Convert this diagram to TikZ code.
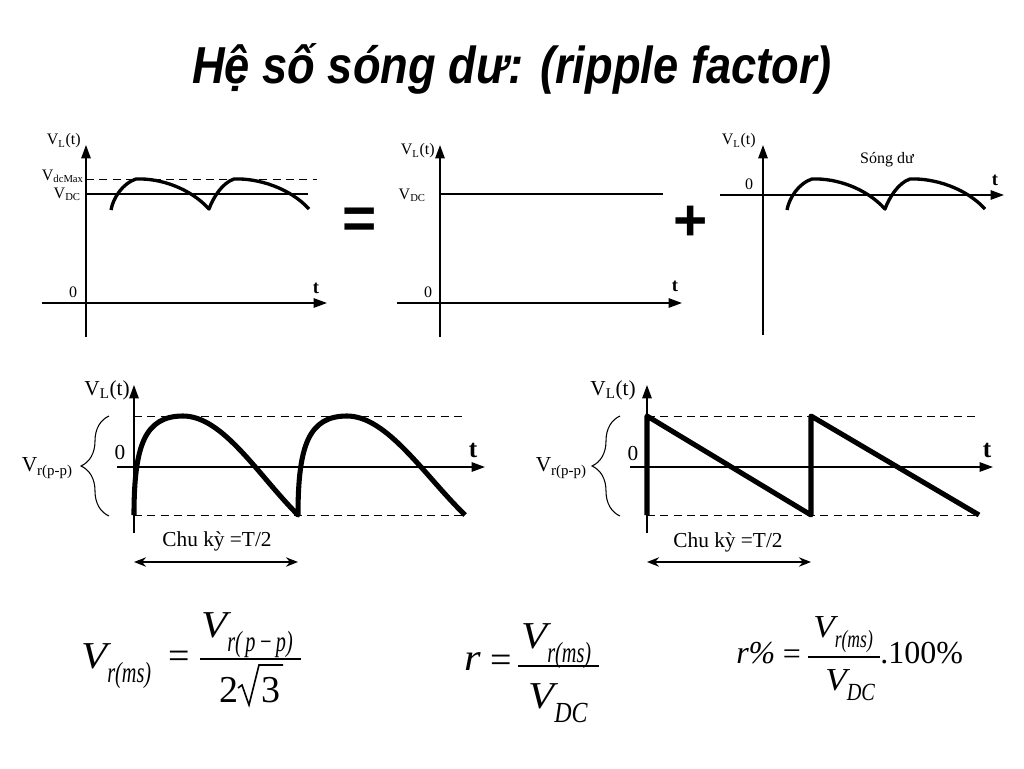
\documentclass[tikz,border=0pt]{standalone}
\usepackage{graphicx}
\usepackage{fontspec}
\setmainfont{Liberation Serif}
\newfontfamily\titlefont{Liberation Sans}
\usetikzlibrary{arrows.meta,decorations.pathreplacing}
\newcommand\fsubA[2][0.8]{\raisebox{-10.5pt}{\fontsize{19.5}{20}\selectfont\itshape\scalebox{#1}[1.12]{#2}}}
\newcommand\fsubB[2][0.8]{\raisebox{-8pt}{\fontsize{16.5}{17}\selectfont\itshape\scalebox{#1}[1.12]{#2}}}
\begin{document}
\begin{tikzpicture}[x=0.75pt,y=-0.75pt,
 axis/.style={line width=1.3pt,-{Triangle[length=10pt,width=7pt]}},
 dashline/.style={line width=0.7pt,dash pattern=on 6pt off 4pt},
 dcline/.style={line width=2.2pt},
 wavetop/.style={line width=2.5pt,line join=round},
 wavebot/.style={line width=3.8pt,line join=round},
 labs/.style={font=\fontsize{12}{14}\selectfont,inner sep=0pt},
 labb/.style={font=\fontsize{16}{19}\selectfont,inner sep=0pt},
 tsmall/.style={font=\fontsize{14}{16}\selectfont\bfseries,inner sep=0pt},
 tbig/.style={font=\fontsize{19}{22}\selectfont\bfseries,inner sep=0pt},
 bracestyle/.style={decorate,decoration={brace,amplitude=21pt},line width=0.8pt},
 period/.style={line width=1.5pt,{Stealth[length=9pt,width=7pt]}-{Stealth[length=9pt,width=7pt]}},
 op/.style={font=\titlefont\bfseries\fontsize{44}{50}\selectfont,inner sep=0pt},
 fbig/.style={inner sep=0pt,font=\fontsize{28.5}{30}\selectfont\itshape},
 fbigup/.style={inner sep=0pt,font=\fontsize{28.5}{30}\selectfont},
 fmid/.style={inner sep=0pt,font=\fontsize{24}{26}\selectfont\itshape},
 fmidup/.style={inner sep=0pt,font=\fontsize{24}{26}\selectfont},
 fbar/.style={line width=1.2pt},
 radical/.style={line width=1.2pt,line join=miter}]
\useasboundingbox (0,0) rectangle (1024,768);
\fill[white] (0,0) rectangle (1024,768);

% title
\node[font=\titlefont\bfseries\itshape\fontsize{39}{46}\selectfont,anchor=base,inner sep=0pt] (title) at (512,83) {\scalebox{0.87}[1]{Hệ số sóng dư: (ripple factor)}};

% ---------- panel 1 ----------
\draw[axis] (86,337) -- (86,145);
\draw[axis] (42,303) -- (327,303);
\draw[dashline] (86,179) -- (317,179);
\draw[dcline] (86,194) -- (308,194);
\draw[wavetop] (111,210) .. controls (113,198) and (123,183) .. (136,179)
  .. controls (160,178) and (190,188) .. (209,209)
  .. controls (213,198) and (222,183) .. (234,179)
  .. controls (258,178) and (290,188) .. (309,209);
\node[labs,anchor=east] (p1vl) at (81,141) {V\textsubscript{L}(t)};
\node[labs,anchor=base east] (p1max) at (84,180) {V\textsubscript{dcMax}};
\node[labs,anchor=base east] (p1dc) at (81,198) {V\textsubscript{DC}};
\node[labs] (p1zero) at (73,292) {0};
\node[tsmall] (p1t) at (316,288) {t};

\node[op] (eq) at (360,223) {=};

% ---------- panel 2 ----------
\draw[axis] (440,337) -- (440,145);
\draw[axis] (397,303) -- (682,303);
\draw[dcline] (440,194) -- (663,194);
\node[labs,anchor=east] (p2vl) at (435,151) {V\textsubscript{L}(t)};
\node[labs,anchor=base east] (p2dc) at (426,199) {V\textsubscript{DC}};
\node[labs] (p2zero) at (428,292) {0};
\node[tsmall] (p2t) at (675,286) {t};

\node[op] (plus) at (691,223) {+};

% ---------- panel 3 ----------
\draw[axis] (763,335) -- (763,145);
\draw[axis] (720,195) -- (1004,195);
\draw[wavetop] (787,210) .. controls (789,198) and (799,183) .. (812,179)
  .. controls (836,178) and (866,188) .. (885,209)
  .. controls (889,198) and (898,183) .. (910,179)
  .. controls (934,178) and (966,188) .. (985,209);
\node[labs,anchor=east] (p3vl) at (756,141) {V\textsubscript{L}(t)};
\node[labs] (p3ripple) at (887,160) {Sóng dư};
\node[labs] (p3zero) at (749,184) {0};
\node[tsmall] (p3t) at (995,180) {t};

% ---------- panel 4 ----------
\draw[dashline] (134,416) -- (467,416);
\draw[dashline] (134,515) -- (467,515);
\draw[axis] (134,533) -- (134,385);
\draw[axis] (117,467) -- (485,467);
\draw[wavebot] (134,515) .. controls (134,445) and (145,416) .. (183,416)
  .. controls (223,416) and (258,475) .. (298,515)
  .. controls (298,445) and (309,416) .. (347,416)
  .. controls (387,416) and (424,475) .. (465,515);
\draw[bracestyle] (109,516) -- (109,416);
\node[labb,anchor=east] (p4vl) at (130,390) {V\textsubscript{L}(t)};
\node[labb] (p4zero) at (120,453) {0};
\node[tbig] (p4t) at (473,450) {t};
\node[labb,anchor=east] (p4vr) at (73,468) {V\textsubscript{r(p-p)}};
\node[labb] (p4per) at (217,541) {Chu kỳ =T/2};
\coordinate (p4a) at (134,562);
\coordinate (p4b) at (298,562);
\draw[period] (p4a) -- (p4b);

% ---------- panel 5 ----------
\draw[dashline] (647,416) -- (980,416);
\draw[dashline] (647,515) -- (980,515);
\draw[axis] (647,533) -- (647,385);
\draw[axis] (630,467) -- (993,467);
\draw[wavebot] (647,515) -- (647,416) -- (811,515) -- (811,416) -- (979,515);
\draw[bracestyle] (620,516) -- (620,416);
\node[labb,anchor=east] (p5vl) at (636,390) {V\textsubscript{L}(t)};
\node[labb] (p5zero) at (633,454) {0};
\node[tbig] (p5t) at (987,450) {t};
\node[labb,anchor=east] (p5vr) at (587,468) {V\textsubscript{r(p-p)}};
\node[labb] (p5per) at (728,542) {Chu kỳ =T/2};
\coordinate (p5a) at (647,562);
\coordinate (p5b) at (811,562);
\draw[period] (p5a) -- (p5b);

% ---------- formula 1 ----------
\node[fbig,anchor=base west] (f1l) at (81,668) {\scalebox{1.12}[1]{V}\fsubA[0.78]{r(ms)}};
\node[fbigup,anchor=base] (f1eq) at (179,668) {=};
\node[fbig,anchor=base west] (f1n) at (201,637) {\scalebox{1.12}[1]{V}\fsubA[0.78]{r(\,p\,−\,p)}};
\draw[fbar] (200,659) -- (301,659);
\node[fbigup,anchor=base east] (f1two) at (239,702) {2};
\draw[radical] (238,688) -- (242,685) -- (249,705) -- (259,665) -- (283,665);
\node[fbigup,anchor=base west] (f1three) at (261,702) {3};

% ---------- formula 2 ----------
\node[fbig,anchor=base west] (f2r) at (464,670) {\scalebox{1.12}[1]{r}};
\node[fbigup,anchor=base] (f2eq) at (501,672) {=};
\node[fbig,anchor=base west] (f2n) at (521,648) {\scalebox{1.12}[1]{V}\fsubA[0.78]{r(ms)}};
\draw[fbar] (518,666) -- (599,666);
\node[fbig,anchor=base west] (f2d) at (528,708) {\scalebox{1.12}[1]{V}\fsubA[0.92]{DC}};

% ---------- formula 3 ----------
\node[fmid,anchor=base west] (f3l) at (736,663) {r\%};
\node[fmidup,anchor=base] (f3eq) at (792,664) {=};
\node[fmid,anchor=base west] (f3n) at (813,637) {\scalebox{1.1}[1]{V}\fsubB[0.8]{r(ms)}};
\draw[fbar,line width=1pt] (808,657) -- (880,657);
\node[fmid,anchor=base west] (f3d) at (825,690) {\scalebox{1.1}[1]{V}\fsubB[0.92]{DC}};
\node[fmidup,anchor=base west] (f3t) at (880,663) {.100\%};
\end{tikzpicture}
\end{document}
